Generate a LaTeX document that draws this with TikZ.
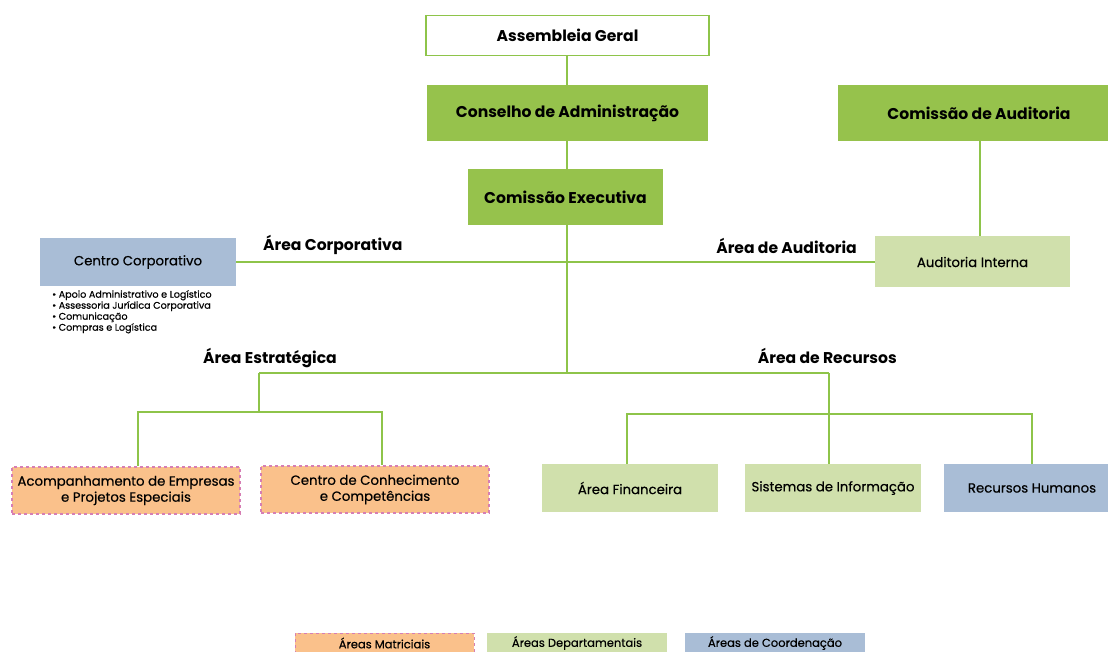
\documentclass[tikz,border=0pt]{standalone}
\usepackage{fontspec}
\setmainfont{Poppins}
\newfontfamily\medio{Poppins}[FakeBold=0.5]
\definecolor{verde}{RGB}{150,194,76}
\definecolor{verdeclaro}{RGB}{208,224,172}
\definecolor{linha}{RGB}{142,196,74}
\definecolor{azul}{RGB}{169,189,214}
\definecolor{laranja}{RGB}{250,193,139}
\definecolor{rosa}{RGB}{214,126,180}
\tikzset{
 caixa/.style={rectangle,inner sep=0pt,align=center,text=black},
 topo/.style={caixa,fill=verde,font=\bfseries\fontsize{15.6}{18}\selectfont},
 dept/.style={caixa,fill=verdeclaro,font=\medio\fontsize{13.3}{15}\selectfont},
 coord/.style={caixa,fill=azul,font=\medio\fontsize{13.3}{15}\selectfont},
 matr/.style={caixa,fill=laranja,draw=rosa,dashed,line width=1.2pt,font=\medio\fontsize{13.3}{16}\selectfont},
 rotulo/.style={font=\bfseries\fontsize{15.6}{18}\selectfont,inner sep=0pt},
 ramo/.style={draw=linha,line width=1.8pt},
 leg/.style={caixa,minimum width=180pt,font=\medio\fontsize{11.5}{13}\selectfont}
}
\begin{document}
\begin{tikzpicture}[x=1pt,y={(0,-1pt)}]
 \useasboundingbox (0,0) rectangle (1108,652);
 \clip (0,0) rectangle (1108,652);
 % topo
 \node[caixa,draw=linha,line width=1.5pt,minimum width=283pt,minimum height=40pt,
  font=\bfseries\fontsize{15.6}{18}\selectfont] (ag) at (567.5,35.5) {Assembleia Geral};
 \node[topo,minimum width=281pt,minimum height=56pt] (ca) at (567.5,113) {Conselho de Administração};
 \node[topo,minimum width=282pt,minimum height=56pt] (cau) at (979,113) {Comissão de Auditoria};
 \node[topo,minimum width=195pt,minimum height=56pt] (ce) at (565.5,197) {Comissão Executiva};
 % area corporativa / auditoria
 \node[coord,minimum width=196pt,minimum height=48pt] (cc) at (138,262) {Centro Corporativo};
 \node[dept,minimum width=195pt,minimum height=51pt] (ai) at (972.5,262) {Auditoria Interna};
 \node[anchor=north west,inner sep=0pt,align=left,font=\medio\fontsize{9.6}{11}\selectfont] (lista) at (52,290)
  {{\textbullet} Apoio Administrativo e Logístico\\{\textbullet} Assessoria Jurídica Corporativa\\
   {\textbullet} Comunicação\\{\textbullet} Compras e Logística};
 \node[rotulo,anchor=west] (lcorp) at (263,245) {Área Corporativa};
 \node[rotulo,anchor=east] (laud) at (857,246) {Área de Auditoria};
 \node[rotulo,anchor=west] (lest) at (203,358) {Área Estratégica};
 \node[rotulo,anchor=east] (lrec) at (897,356) {Área de Recursos};
 % caixas de baixo
 \node[matr,minimum width=228pt,minimum height=47pt] (acp) at (126,490.5) {Acompanhamento de Empresas\\e Projetos Especiais};
 \node[matr,minimum width=228pt,minimum height=47pt] (ccc) at (375,489.5) {Centro de Conhecimento\\e Competências};
 \node[dept,minimum width=176pt,minimum height=48pt] (af) at (630,488) {Área Financeira};
 \node[dept,minimum width=176pt,minimum height=48pt] (si) at (833,488) {Sistemas de Informação};
 \node[coord,minimum width=176pt,minimum height=48pt] (rh) at (1032,488) {Recursos Humanos};
 % ligacoes
 \coordinate (est) at (259,373);
 \coordinate (rec) at (829,373);
 \coordinate (estb) at (259,412);
 \coordinate (recb) at (829,414);
 \draw[ramo] (ag.south -| 567,0) -- (ca.north -| 567,0);
 \draw[ramo] (ca.south -| 567,0) -- (ce.north -| 567,0);
 \draw[ramo] (cau.south -| 980,0) -- (ai.north -| 980,0);
 \draw[ramo] (cc.east) -- (ai.west);
 \draw[ramo] (567,225) -- (567,373);
 \draw[ramo] (est) -- (rec);
 \draw[ramo] (est) -- (estb);
 \draw[ramo] (acp.north -| 138,0) |- (estb) -| (ccc.north -| 382,0);
 \draw[ramo] (rec) -- (si.north -| rec);
 \draw[ramo] (af.north -| 627,0) |- (recb) -| (rh.north);
 % legenda
 \fill[laranja] (295,633) rectangle (474,660);
 \draw[rosa,dashed,line width=0.8pt] (295,660) -- (295,633) -- (474,633) -- (474,660);
 \fill[verdeclaro] (487,633) rectangle (667,660);
 \fill[azul] (685,633) rectangle (865,660);
 \node[leg] (lm) at (384.5,643) {Áreas Matriciais};
 \node[leg] (ld) at (577,643) {Áreas Departamentais};
 \node[leg] (lc) at (775,643) {Áreas de Coordenação};
\end{tikzpicture}
\end{document}
